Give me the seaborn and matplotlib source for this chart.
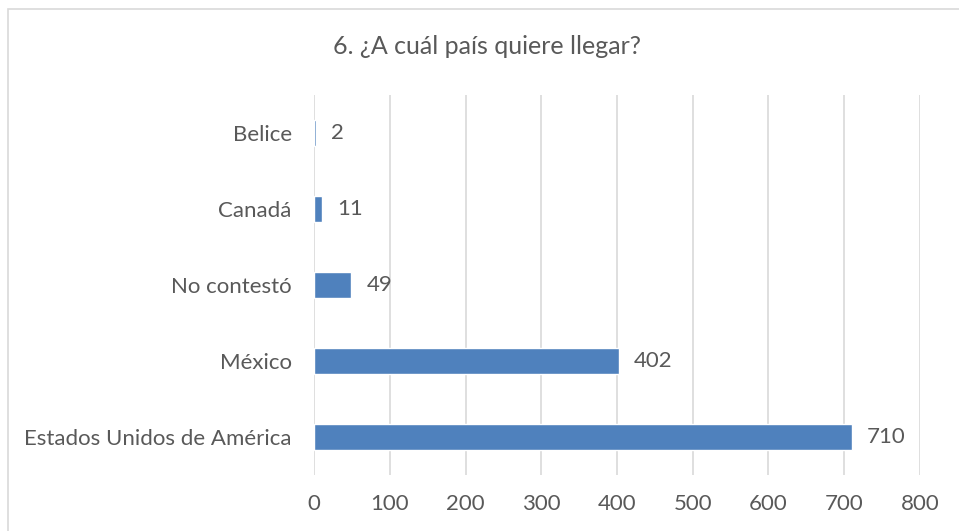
import matplotlib
matplotlib.use("Agg")
import matplotlib.pyplot as plt
import seaborn as sns
import pandas as pd
from matplotlib.patches import Rectangle

# datos
paises = ["Belice", "Canadá", "No contestó", "México", "Estados Unidos de América"]
respuestas = [2, 11, 49, 402, 710]
ticks_x = [0, 100, 200, 300, 400, 500, 600, 700, 800]
titulo = "6. ¿A cuál país quiere llegar?"

df = pd.DataFrame({"pais": paises, "n": respuestas})

sns.set_style("white")
plt.rcParams['font.family'] = ['Lato', 'DejaVu Sans']
gris = '#595959'

fig = plt.figure(figsize=(9.59, 5.31), dpi=100)
ax = fig.add_axes([314/959, 1 - 475/531, (920 - 314)/959, (475 - 95)/531])

sns.barplot(data=df, y="pais", x="n", order=paises, color='#4F81BD',
            saturation=1, width=0.35, orient='h', ax=ax, zorder=3)

# etiquetas de datos
for p, v in zip(ax.patches, respuestas):
    ax.annotate(f'{v}', (p.get_width(), p.get_y() + p.get_height() / 2),
                xytext=(11, 0), textcoords='offset points',
                ha='left', va='center', fontsize=16, color=gris)

ax.set_xlim(0, 800)
ax.set_ylim(4.5, -0.5)
ax.set_xticks(ticks_x)
ax.grid(axis='x', color='#D9D9D9', linewidth=1.2, zorder=0)
ax.set_xlabel("")
ax.set_ylabel("")
for s in ax.spines.values():
    s.set_visible(False)
ax.tick_params(axis='both', length=0, labelsize=16, labelcolor=gris)
ax.tick_params(axis='x', pad=14)
ax.tick_params(axis='y', pad=16)

fig.text(487/959, 1 - 47/531, titulo, ha='center', va='center',
         fontsize=18, color=gris)

# borde del gráfico
fig.patches.append(Rectangle((8/959, -0.1), 1.2, 1.1 - 9/531, transform=fig.transFigure,
                             fill=False, edgecolor='#D9D9D9', linewidth=1.2))

fig.savefig('out.png', dpi=100, facecolor='white')
